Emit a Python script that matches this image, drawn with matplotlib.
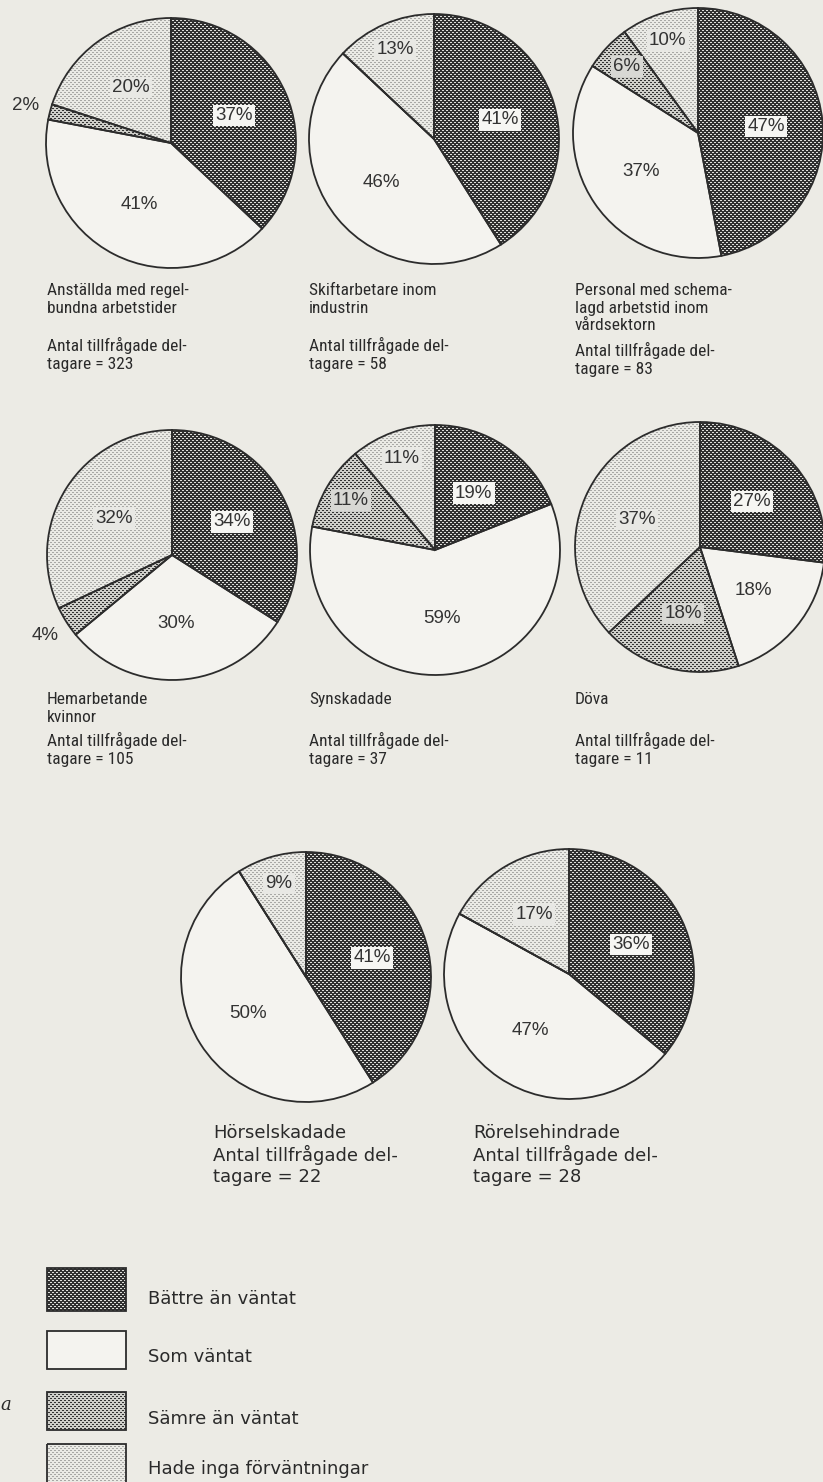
import numpy as np
import matplotlib.pyplot as plt
from matplotlib.patches import Rectangle

W, H = 823, 1482

# answer categories (legend), clockwise from 12 o'clock
categories = ['Bättre än väntat', 'Som väntat', 'Sämre än väntat', 'Hade inga förväntningar']

# groups of respondents
groups = ['Anställda med regel-\nbundna arbetstider',
          'Skiftarbetare inom\nindustrin',
          'Personal med schema-\nlagd arbetstid inom\nvårdsektorn',
          'Hemarbetande\nkvinnor',
          'Synskadade',
          'Döva',
          'Hörselskadade',
          'Rörelsehindrade']
respondents = [323, 58, 83, 105, 37, 11, 22, 28]

# percent per answer category
better = [37, 41, 47, 34, 19, 27, 41, 36]
as_expected = [41, 46, 37, 30, 59, 18, 50, 47]
worse = [2, 0, 6, 4, 11, 18, 0, 0]
no_expectation = [20, 13, 10, 32, 11, 37, 9, 17]

# layout (pixel coordinates, y downwards)
centers = [(171, 143), (434, 139), (698, 133),
           (172, 555), (435, 550), (700, 547),
           (306, 977), (569, 974)]
radius = 125
page = '#ecebe5'
edge = '#2c2c2c'

fig = plt.figure(figsize=(W / 100, H / 100), dpi=100)
fig.patch.set_facecolor(page)
ax = fig.add_axes([0, 0, 1, 1])
ax.set_facecolor(page)

# halftone textures for the four answer categories
yy, xx = np.mgrid[0:H, 0:W]


def texture(base, dot, period, size):
    img = np.empty((H, W, 3), dtype=np.uint8)
    img[:] = base
    if dot is not None:
        mask = ((xx + yy) % period < size) & ((xx - yy) % period < size)
        img[mask] = dot
    return img


textures = [texture((48, 48, 48), (222, 222, 218), 4, 2),
            texture((244, 243, 239), None, 1, 1),
            texture((206, 206, 201), (50, 50, 50), 4, 2),
            texture((234, 234, 229), (168, 168, 165), 4, 2)]
label_bg = ['#f6f6f3', None, '#d8d8d4', '#e8e8e4']

for i in range(len(groups)):
    vals = [better[i], as_expected[i], worse[i], no_expectation[i]]
    wedges, _ = ax.pie(vals, center=centers[i], radius=radius, startangle=270,
                       counterclock=True,
                       wedgeprops=dict(facecolor='none', edgecolor=edge,
                                       linewidth=1.3, zorder=3))
    cx, cy = centers[i]
    for k, (w, v) in enumerate(zip(wedges, vals)):
        if v == 0:
            continue
        im = ax.imshow(textures[k], extent=(0, W, H, 0),
                       interpolation='nearest', zorder=1)
        im.set_clip_path(w)
        # label distance depends on slice size
        if v <= 4:
            d = 1.2
        elif v < 15:
            d = 0.78
        else:
            d = 0.55
        ang = np.deg2rad((w.theta1 + w.theta2) / 2)
        bbox = None
        if label_bg[k] is not None and d < 1:
            bbox = dict(boxstyle='square,pad=0.12', facecolor=label_bg[k],
                        edgecolor='none')
        ax.text(cx + d * radius * np.cos(ang), cy + d * radius * np.sin(ang),
                f'{v}%', ha='center', va='center', fontsize=13.5,
                family='Liberation Sans', color='#333333', zorder=4, bbox=bbox)

# captions
narrow = ['Roboto Condensed', 'Open Sans Condensed', 'Liberation Sans Narrow',
          'Liberation Sans']
cap_col = '#2a2a2a'
cap_size = 12.5
row1_x = [47, 309, 575]
for j in range(3):
    ax.text(row1_x[j], 283, groups[j], ha='left', va='top', fontsize=cap_size,
            family=narrow, color=cap_col, linespacing=1.22)
    ytop = 342 if j == 2 else 337
    ax.text(row1_x[j], ytop, f'Antal tillfrågade del-\ntagare = {respondents[j]}',
            ha='left', va='top', fontsize=cap_size, family=narrow, color=cap_col,
            linespacing=1.22)
for j in range(3):
    ax.text(row1_x[j], 692, groups[3 + j], ha='left', va='top', fontsize=cap_size,
            family=narrow, color=cap_col, linespacing=1.22)
    ax.text(row1_x[j], 732, f'Antal tillfrågade del-\ntagare = {respondents[3 + j]}',
            ha='left', va='top', fontsize=cap_size, family=narrow, color=cap_col,
            linespacing=1.22)
row3_x = [213, 473]
for j in range(2):
    ax.text(row3_x[j], 1124,
            f'{groups[6 + j]}\nAntal tillfrågade del-\ntagare = {respondents[6 + j]}',
            ha='left', va='top', fontsize=13, family='DejaVu Sans',
            color=cap_col, linespacing=1.2)

# legend
box_top = [1268, 1331, 1392, 1444]
box_h = [43, 38, 38, 40]
text_y = [1299, 1357, 1419, 1469]
for k, cat in enumerate(categories):
    rect = Rectangle((47, box_top[k]), 79, box_h[k], facecolor='none',
                     edgecolor=edge, linewidth=1.3, zorder=3)
    ax.add_patch(rect)
    im = ax.imshow(textures[k], extent=(0, W, H, 0), interpolation='nearest',
                   zorder=1)
    im.set_clip_path(rect)
    ax.text(148, text_y[k], cat, ha='left', va='center', fontsize=13,
            family='DejaVu Sans', color=cap_col)

ax.text(0, 1405, 'a', ha='left', va='center', fontsize=13, style='italic',
        family='DejaVu Serif', color=cap_col)

ax.set_xlim(0, W)
ax.set_ylim(H, 0)
ax.set_aspect('auto')
ax.axis('off')

fig.savefig('out.png', dpi=100, facecolor=page)
